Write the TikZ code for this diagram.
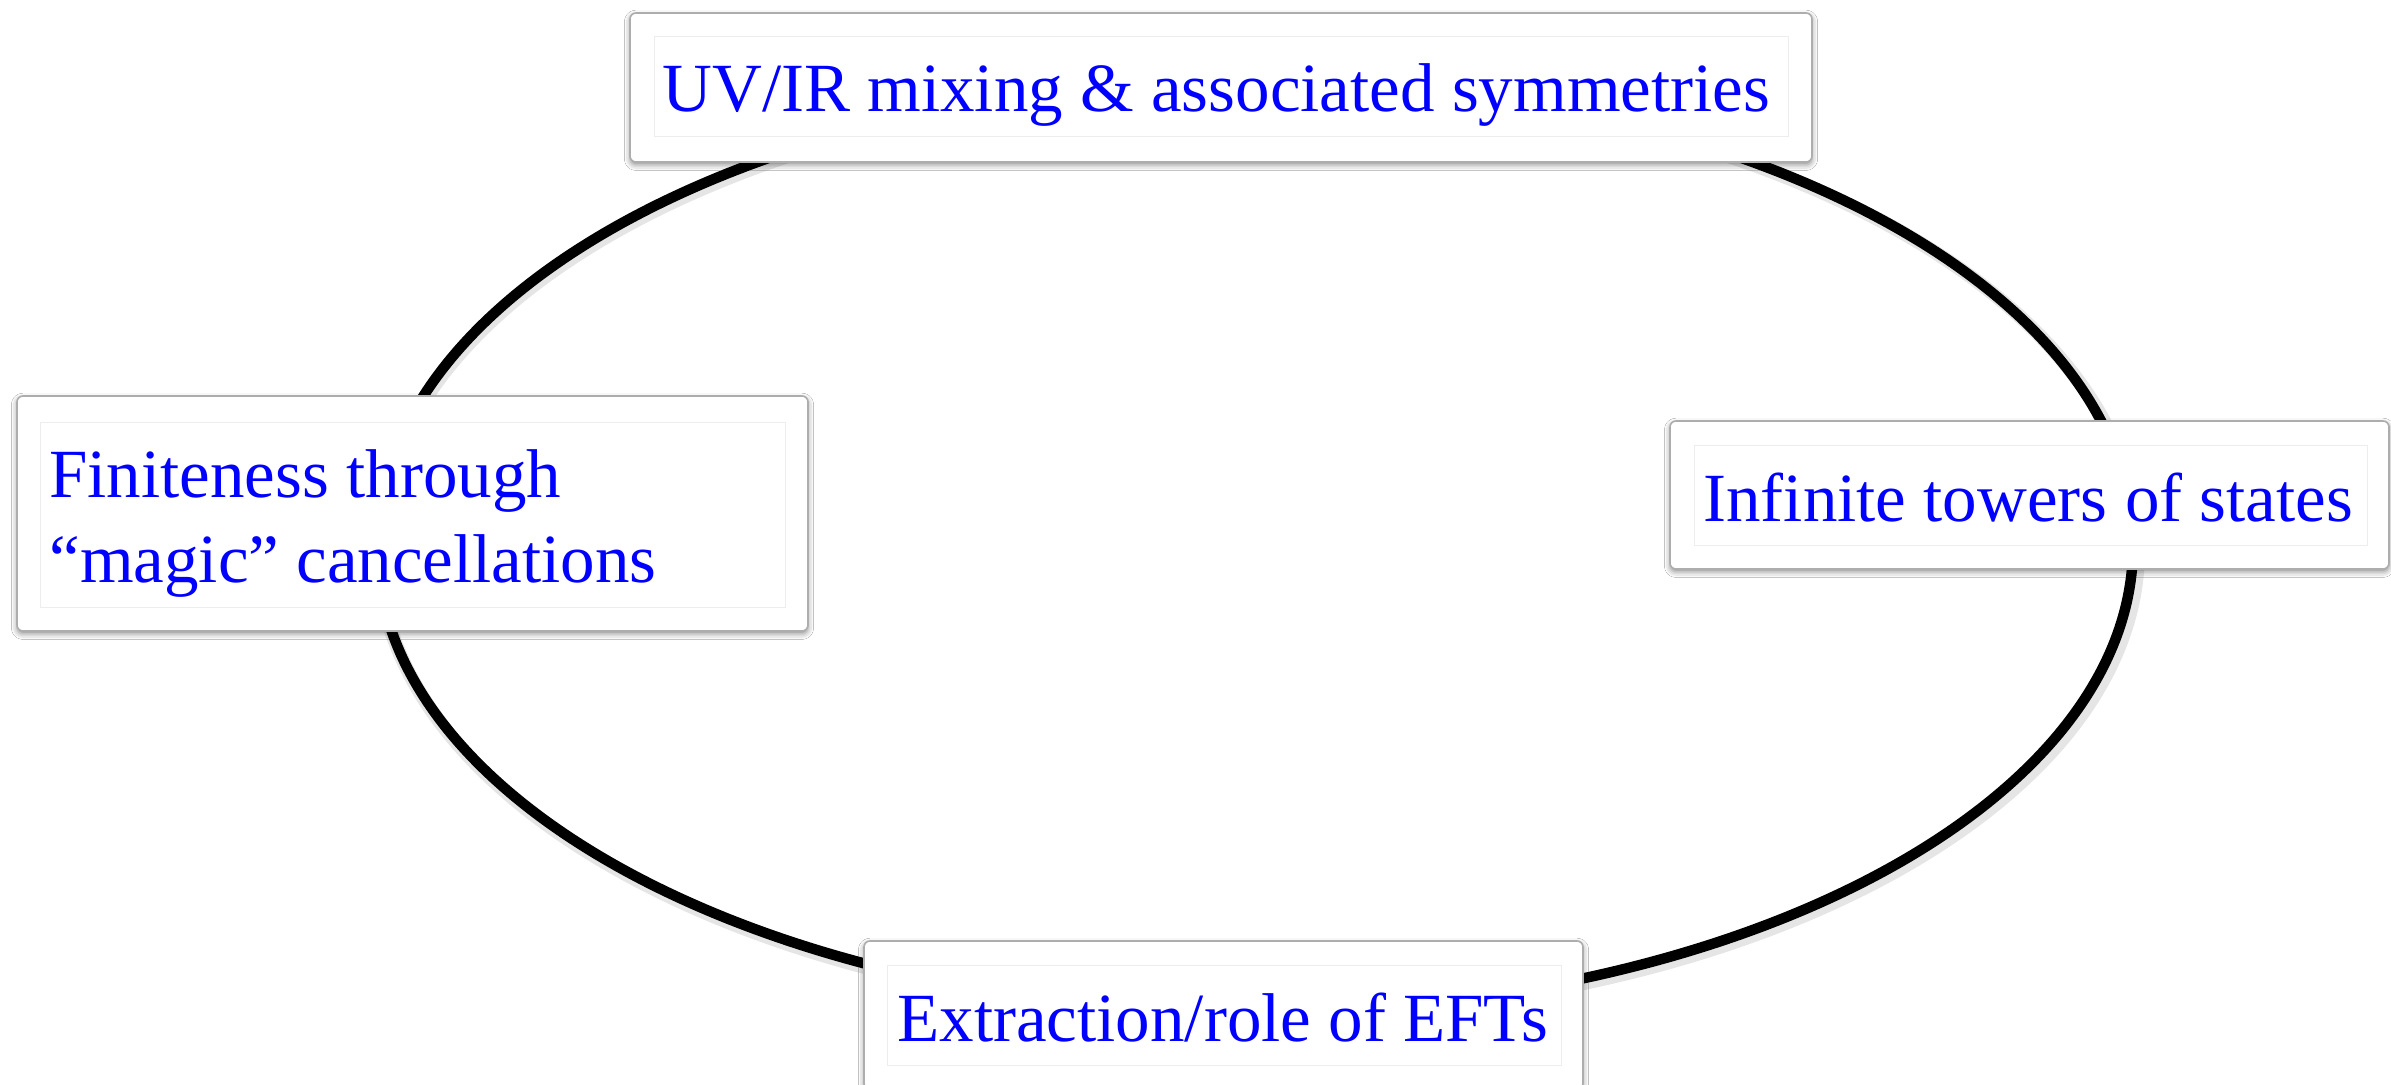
\documentclass[tikz,border=0pt]{standalone}
\usepackage{fontspec}
\setmainfont{Liberation Serif}
\usetikzlibrary{shadows.blur}
\definecolor{txtblue}{RGB}{0,0,255}
\begin{document}
\begin{tikzpicture}[x=0.5pt,y=-0.5pt,
  ring/.style={line width=5.2pt, draw=black},
  ringshadow/.style={line width=7pt, draw=black, opacity=0.10},
  panel/.style={rectangle, rounded corners=3pt, fill=white, draw=black!32, line width=0.8pt, inner sep=0pt,
     blur shadow={shadow xshift=0pt, shadow yshift=-1.4pt, shadow blur radius=2.8pt, shadow opacity=45}},
  innerframe/.style={draw=black!7, line width=0.5pt},
  boxtext/.style={inner sep=0pt, anchor=base west, text=txtblue, font=\fontsize{34.5pt}{42.5pt}\selectfont}
]
\useasboundingbox (0,0) rectangle (2391,1085);
\clip (0,0) rectangle (2391,1085);
\fill[white] (0,0) rectangle (2391,1085);
\coordinate (c) at (1255,546);
\draw[ringshadow] ([shift={(3,4)}]c) ellipse [x radius=440pt, y radius=233pt];
\draw[ring] (c) ellipse [x radius=439pt, y radius=233pt];

\node[panel, minimum width=591pt, minimum height=74.5pt] (topbox) at (1221,87.5) {};
\node[panel, minimum width=395.5pt, minimum height=117.5pt] (leftbox) at (412.5,513.5) {};
\node[panel, minimum width=359.5pt, minimum height=74pt] (rightbox) at (2029.5,495) {};
\node[panel, minimum width=359.5pt, minimum height=74pt] (bottombox) at (1223.5,1015) {};

\draw[innerframe] (654,37) rectangle (1788,137);
\draw[innerframe] (40,422) rectangle (785,607);
\draw[innerframe] (1694,445) rectangle (2367,545);
\draw[innerframe] (887,965) rectangle (1561,1065);

\node[boxtext] (ttop) at (662,112) {UV/IR mixing \& associated symmetries};
\node[boxtext] (tleft1) at (49,497) {Finiteness through};
\node[boxtext] (tleft2) at (49,582) {“magic” cancellations};
\node[boxtext] (tright) at (1703,521) {Infinite towers of states};
\node[boxtext] (tbottom) at (897,1041) {Extraction/role of EFTs};
\end{tikzpicture}
\end{document}
